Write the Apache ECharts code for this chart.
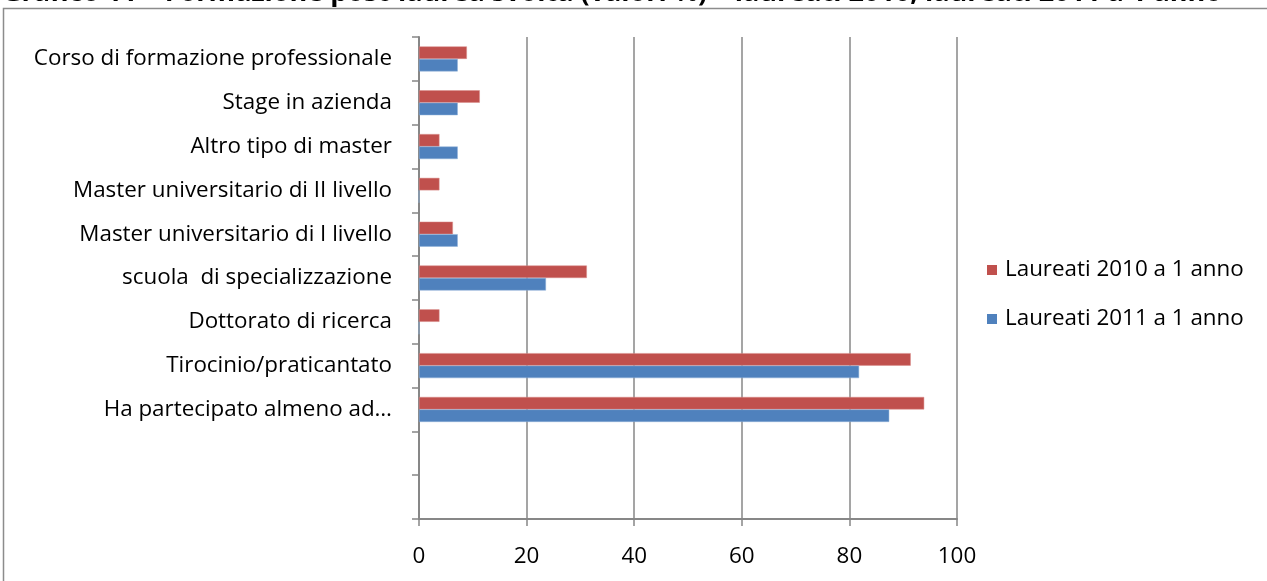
<!DOCTYPE html>
<html>
<head>
<meta charset="utf-8">
<script src="https://cdn.jsdelivr.net/npm/echarts@6/dist/echarts.min.js"></script>
<style>
  html, body { margin: 0; padding: 0; background: #fff; }
  #chart { width: 1267px; height: 581px; }
</style>
</head>
<body>
<div id="chart"></div>
<script>
// Categories listed bottom to top, two blank slots at the foot of the axis
const categories = [
  ' ',
  '  ',
  'Ha partecipato almeno ad…',
  'Tirocinio/praticantato',
  'Dottorato di ricerca',
  'scuola  di specializzazione',
  'Master universitario di I livello',
  'Master universitario di II livello',
  'Altro tipo di master',
  'Stage in azienda',
  'Corso di formazione professionale'
];
const laureati2010 = [null, null, 93.9, 91.4, 3.8, 31.2, 6.3, 3.8, 3.8, 11.3, 8.9];
const laureati2011 = [null, null, 87.4, 81.8, 0, 23.6, 7.2, 0, 7.2, 7.2, 7.2];
const xTicks = [0, 20, 40, 60, 80, 100];
const seriesNames = ['Laureati 2010 a 1 anno', 'Laureati 2011 a 1 anno'];
const titleText = 'Grafico 11 – Formazione post-laurea svolta (valori %) – laureati 2010, laureati 2011 a 1 anno';

const FONT = 'Open Sans';
const GRID_GRAY = '#878787';
const LABEL_SIZE = 22.4;

const chart = echarts.init(document.getElementById('chart'), null, { renderer: 'canvas' });
chart.setOption({
  animation: false,
  backgroundColor: '#ffffff',
  textStyle: { fontFamily: FONT },
  graphic: [
    {
      type: 'rect',
      silent: true,
      shape: { x: 3.5, y: 8.5, width: 1300, height: 600 },
      style: { fill: 'none', stroke: '#8c8c8c', lineWidth: 1.5 }
    },
    {
      type: 'text',
      silent: true,
      left: 2,
      top: -20,
      style: {
        text: titleText,
        font: 'bold 27px "' + FONT + '"',
        fill: '#000'
      }
    }
  ],
  legend: {
    orient: 'vertical',
    left: 982,
    top: 254,
    itemWidth: 10,
    itemHeight: 10,
    itemGap: 27,
    icon: 'rect',
    data: seriesNames,
    itemStyle: { borderWidth: 0 },
    textStyle: { fontFamily: FONT, fontSize: LABEL_SIZE, color: '#000', padding: [0, 0, 0, 3] }
  },
  grid: {
    left: 419,
    right: 310,
    top: 37,
    bottom: 62,
    containLabel: false
  },
  xAxis: {
    type: 'value',
    min: xTicks[0],
    max: xTicks[xTicks.length - 1],
    interval: 20,
    axisLine: { show: true, lineStyle: { color: GRID_GRAY, width: 2 } },
    axisTick: { show: true, length: 7, lineStyle: { color: GRID_GRAY, width: 1.5 } },
    axisLabel: { color: '#000', fontFamily: FONT, fontSize: LABEL_SIZE, margin: 27 },
    splitLine: { show: true, lineStyle: { color: GRID_GRAY, width: 1.5 } }
  },
  yAxis: {
    type: 'category',
    data: categories,
    axisLine: { show: true, lineStyle: { color: GRID_GRAY, width: 2 } },
    axisTick: { show: true, length: 7, alignWithLabel: false, lineStyle: { color: GRID_GRAY, width: 1.5 } },
    axisLabel: { color: '#000', fontFamily: FONT, fontSize: LABEL_SIZE, margin: 27, interval: 0 },
    splitLine: { show: false }
  },
  series: [
    {
      name: seriesNames[0],
      type: 'bar',
      data: laureati2010,
      barGap: '0%',
      barCategoryGap: '43%',
      itemStyle: { color: '#C0504D', borderColor: '#d98c8a', borderWidth: 0.5 }
    },
    {
      name: seriesNames[1],
      type: 'bar',
      data: laureati2011,
      barGap: '0%',
      barCategoryGap: '43%',
      itemStyle: { color: '#4F81BD', borderColor: '#8fb0d9', borderWidth: 0.5 }
    }
  ]
});
</script>
</body>
</html>
